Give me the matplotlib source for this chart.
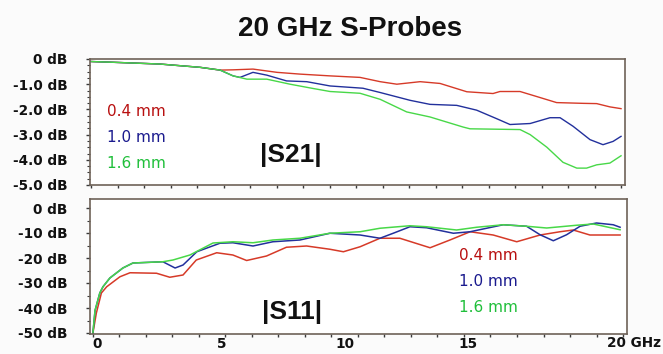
import matplotlib
matplotlib.use("Agg")
import matplotlib.pyplot as plt
from matplotlib.ticker import MultipleLocator, FixedLocator
from matplotlib.transforms import blended_transform_factory

# ---------------- data ----------------
series_names = ["0.4 mm", "1.0 mm", "1.6 mm"]

s21_red_f = [0, 0.83, 2.6, 4.11, 4.87, 5.36, 6.11, 7.02, 7.89, 9.02, 10.15, 10.91, 11.54, 12.42,
             13.17, 14.18, 15.17, 15.43, 16.19, 16.82, 17.57, 18.58, 19.08, 19.58, 20]
s21_red_db = [-0.1, -0.13, -0.2, -0.33, -0.44, -0.43, -0.4, -0.53, -0.6, -0.67, -0.73, -0.9, -1.0, -0.9,
              -0.97, -1.3, -1.37, -1.29, -1.29, -1.49, -1.73, -1.76, -1.77, -1.9, -1.97]

s21_blue_f = [0, 0.83, 2.6, 4.11, 4.87, 5.36, 5.62, 6.11, 6.63, 7.38, 8.14, 9.02, 10.26, 10.91, 12.04,
              12.79, 13.8, 14.55, 15.31, 15.81, 16.57, 17.32, 17.7, 18.19, 18.83, 19.32, 19.7, 20]
s21_blue_db = [-0.1, -0.13, -0.2, -0.33, -0.44, -0.67, -0.73, -0.53, -0.64, -0.87, -0.9, -1.07, -1.16, -1.33,
               -1.64, -1.8, -1.84, -2.03, -2.37, -2.6, -2.56, -2.33, -2.33, -2.67, -3.2, -3.4, -3.27, -3.07]

s21_green_f = [0, 0.83, 2.6, 4.11, 4.87, 5.36, 5.88, 6.63, 7.51, 8.38, 9.02, 10.15, 10.91, 11.91, 12.79,
               14.04, 14.3, 16.19, 16.57, 17.2, 17.81, 18.33, 18.7, 19.08, 19.58, 20]
s21_green_db = [-0.1, -0.13, -0.2, -0.33, -0.44, -0.67, -0.8, -0.8, -1.0, -1.17, -1.29, -1.36, -1.6, -2.1, -2.3,
                -2.7, -2.77, -2.8, -3.0, -3.5, -4.1, -4.33, -4.33, -4.2, -4.13, -3.84]

s11_red_f = [0, 0.13, 0.32, 0.52, 1.02, 1.4, 2.4, 2.9, 3.4, 3.9, 4.67, 5.28, 5.8, 6.55, 7.3, 8.06, 8.94,
             9.45, 10.08, 10.83, 11.58, 12.72, 13.47, 14.23, 15.1, 15.99, 16.87, 17.62, 18.12, 18.75, 19.89]
s11_red_db = [-50, -42, -34, -31.5, -27.5, -25.9, -26.1, -27.7, -26.8, -20.8, -17.9, -18.8, -21, -19.2, -15.7,
              -15.2, -16.5, -17.5, -15.5, -12.1, -12.1, -15.9, -12.8, -9.5, -10.8, -13.5, -10.8, -9.5, -8.8,
              -10.8, -10.8]

s11_blue_f = [0, 0.08, 0.26, 0.38, 0.64, 1.13, 1.51, 2.64, 3.1, 3.4, 3.92, 4.79, 5.28, 6.04, 6.79, 7.81,
              8.94, 10.08, 10.83, 11.33, 11.96, 12.59, 13.6, 14.23, 15.48, 16.36, 16.87, 17.37, 17.87, 18.38,
              19.0, 19.63, 19.89]
s11_blue_db = [-50, -41, -34, -31.5, -28, -24, -22, -21.5, -24, -22.8, -17.5, -14.1, -13.9, -15.2, -13.5,
               -12.8, -10.1, -10.8, -12.1, -10.1, -7.5, -7.9, -10.1, -9.5, -6.7, -7.3, -10.7, -13.1, -10.7,
               -7.3, -6.0, -6.7, -7.7]

s11_green_f = [0, 0.08, 0.26, 0.38, 0.64, 1.13, 1.51, 2.64, 3.02, 3.66, 4.53, 5.28, 6.04, 6.79, 7.81, 8.94,
               10.08, 10.83, 11.96, 12.59, 13.72, 14.48, 15.48, 16.36, 17.12, 18.25, 18.88, 19.89]
s11_green_db = [-50, -41, -34, -31.5, -28, -24, -22, -21.5, -20.8, -18.8, -14, -13.5, -13.9, -12.8, -12.1,
                -10.1, -9.5, -8.1, -7.1, -7.5, -8.8, -7.7, -6.7, -7.3, -8.0, -6.9, -6.4, -8.7]

s21_yticks = [0, -1, -2, -3, -4, -5]
s21_ylabels = ["0 dB", "-1.0 dB", "-2.0 dB", "-3.0 dB", "-4.0 dB", "-5.0 dB"]
s11_yticks = [0, -10, -20, -30, -40, -50]
s11_ylabels = ["0 dB", "-10 dB", "-20 dB", "-30 dB", "-40 dB", "-50 dB"]
x_label_pos = [0.15, 4.85, 9.5, 14.15]
x_labels = ["0", "5", "10", "15"]
x_end_label = "20 GHz"

title = "20 GHz S-Probes"

# ---------------- style ----------------
line_colors = ["#d63a28", "#22309c", "#48d848"]
text_colors = ["#b80f0f", "#1a1a8e", "#1fbf3a"]
spine_color = "#6e6258"
tick_font = dict(family="DejaVu Sans", weight="bold", size=9.8)

fig = plt.figure(figsize=(6.63, 3.54), dpi=100)
fig.patch.set_facecolor("#fbfbfb")

ax1 = fig.add_axes([90 / 663, 1 - 185 / 354, 535 / 663, 126 / 354])
ax2 = fig.add_axes([90 / 663, 1 - 334 / 354, 537 / 663, 135 / 354])

for ax in (ax1, ax2):
    ax.set_facecolor("white")
    for sp in ax.spines.values():
        sp.set_color(spine_color)
        sp.set_linewidth(1.2)
    ax.xaxis.set_minor_locator(MultipleLocator(1))
    ax.tick_params(axis="both", which="both", colors="#3a3a3a", labelcolor="#111111")
    ax.tick_params(axis="x", which="minor", direction="out", length=2.5, width=1.0)
    ax.tick_params(axis="y", which="major", direction="out", length=3, width=1.0, pad=13)
    ax.tick_params(axis="y", which="minor", direction="out", length=2, width=0.8)

# top: |S21|
for f, d, c in zip([s21_red_f, s21_blue_f, s21_green_f],
                   [s21_red_db, s21_blue_db, s21_green_db], line_colors):
    ax1.plot(f, d, color=c, lw=1.0)
ax1.set_xlim(-0.04, 20.15)
ax1.set_ylim(-5.0, 0.0)
ax1.set_yticks(s21_yticks)
ax1.set_yticklabels(s21_ylabels, **tick_font)
ax1.yaxis.set_minor_locator(MultipleLocator(0.25))
ax1.set_xticks([])
ax1.xaxis.set_minor_locator(MultipleLocator(1))

for i, (name, tc) in enumerate(zip(series_names, text_colors)):
    ax1.text(0.6, [-2.1, -3.1, -4.15][i], name, color=tc, fontsize=11,
             family="DejaVu Sans", va="center", ha="left")
ax1.text(7.55, -3.8, "|S21|", fontsize=19, weight="bold", family="Liberation Sans",
         ha="center", va="center", color="#111111")

# bottom: |S11|
for f, d, c in zip([s11_red_f, s11_blue_f, s11_green_f],
                   [s11_red_db, s11_blue_db, s11_green_db], line_colors):
    ax2.plot(f, d, color=c, lw=1.1)
ax2.set_xlim(-0.11, 20.15)
ax2.set_ylim(-50.4, 3.6)
ax2.set_yticks(s11_yticks)
ax2.set_yticklabels(s11_ylabels, **tick_font)
ax2.yaxis.set_minor_locator(MultipleLocator(5))
ax2.xaxis.set_major_locator(FixedLocator(x_label_pos))
ax2.set_xticklabels(x_labels, **tick_font)
ax2.tick_params(axis="x", which="major", length=0, pad=2)
trans = blended_transform_factory(ax2.transData, ax2.transAxes)
ax2.text(20.4, -0.015, x_end_label, transform=trans, ha="center", va="top",
         clip_on=False, color="#111111", **tick_font)

for i, (name, tc) in enumerate(zip(series_names, text_colors)):
    ax2.text(13.8, [-18.8, -29.6, -40.0][i], name, color=tc, fontsize=11,
             family="DejaVu Sans", va="center", ha="left")
ax2.text(7.5, -41.5, "|S11|", fontsize=19, weight="bold", family="Liberation Sans",
         ha="center", va="center", color="#111111")

fig.text(350 / 663, 1 - 29 / 354, title, fontsize=20, weight="bold",
         family="Liberation Sans", ha="center", va="center", color="#111111")

fig.savefig("out.png", dpi=100, facecolor=fig.get_facecolor())
